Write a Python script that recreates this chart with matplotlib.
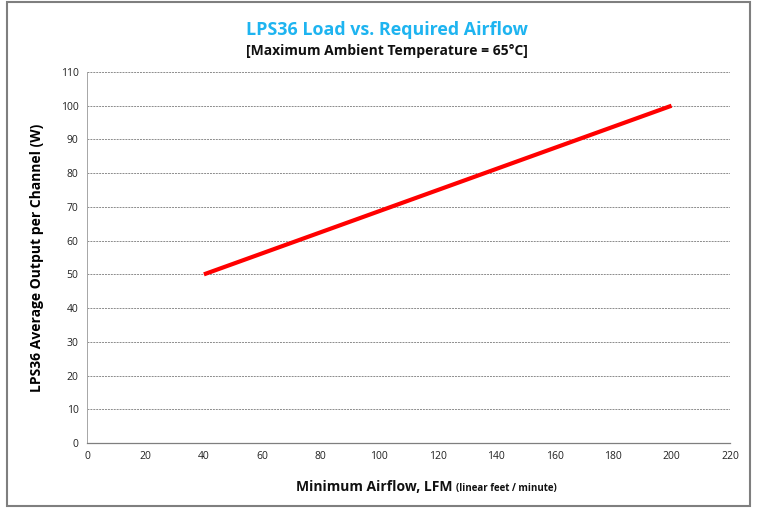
import matplotlib
matplotlib.use("Agg")
import matplotlib.pyplot as plt
from matplotlib.patches import Rectangle

# data
airflow_lfm = [40, 200]
load_w = [50, 100]
x_ticks = list(range(0, 221, 20))
y_ticks = list(range(0, 111, 10))

plt.rcParams["font.family"] = ["Open Sans", "DejaVu Sans"]

fig = plt.figure(figsize=(7.57, 5.08), dpi=100)
ax = fig.add_axes([87 / 757, 1 - 443 / 508, (730 - 87) / 757, (443 - 72) / 508])

ax.plot(airflow_lfm, load_w, color="#ff0000", linewidth=3, solid_capstyle="butt")

ax.set_xlim(0, 220)
ax.set_ylim(0, 110)
ax.set_xticks(x_ticks)
ax.set_yticks(y_ticks)
ax.tick_params(axis="both", length=0, labelsize=7.5, pad=6, colors="#222222")
ax.yaxis.grid(True, linestyle=(0, (2, 1)), color="#8c8c8c", linewidth=0.7)
ax.set_axisbelow(True)

for s in ["top", "right"]:
    ax.spines[s].set_visible(False)
ax.spines["left"].set_linestyle((0, (2, 1)))
ax.spines["left"].set_color("#a6a6a6")
ax.spines["left"].set_linewidth(0.7)
ax.spines["bottom"].set_color("#7f7f7f")
ax.spines["bottom"].set_linewidth(0.9)

ax.set_ylabel("LPS36 Average Output per Channel (W)", fontsize=10, fontweight="bold", labelpad=12)

fig.text(387 / 757, 1 - 30 / 508, "LPS36 Load vs. Required Airflow", ha="center", va="center",
         fontsize=12.9, fontweight="bold", color="#1eb4f0")
fig.text(387 / 757, 1 - 51 / 508, "[Maximum Ambient Temperature = 65\u00b0C]", ha="center", va="center",
         fontsize=10, fontweight="bold", color="#111111")

fig.text(456 / 757, 1 - 491 / 508, "Minimum Airflow, LFM ", ha="right", va="baseline",
         fontsize=10, fontweight="bold", color="#111111")
fig.text(456 / 757, 1 - 491 / 508, "(linear feet / minute)", ha="left", va="baseline",
         fontsize=7, fontweight="bold", color="#111111")

fig.patches.append(Rectangle((7 / 757, 2 / 508), 743 / 757, 504 / 508, transform=fig.transFigure,
                             fill=False, edgecolor="#7f7f7f", linewidth=1.5))

fig.savefig("out.png", dpi=100)
